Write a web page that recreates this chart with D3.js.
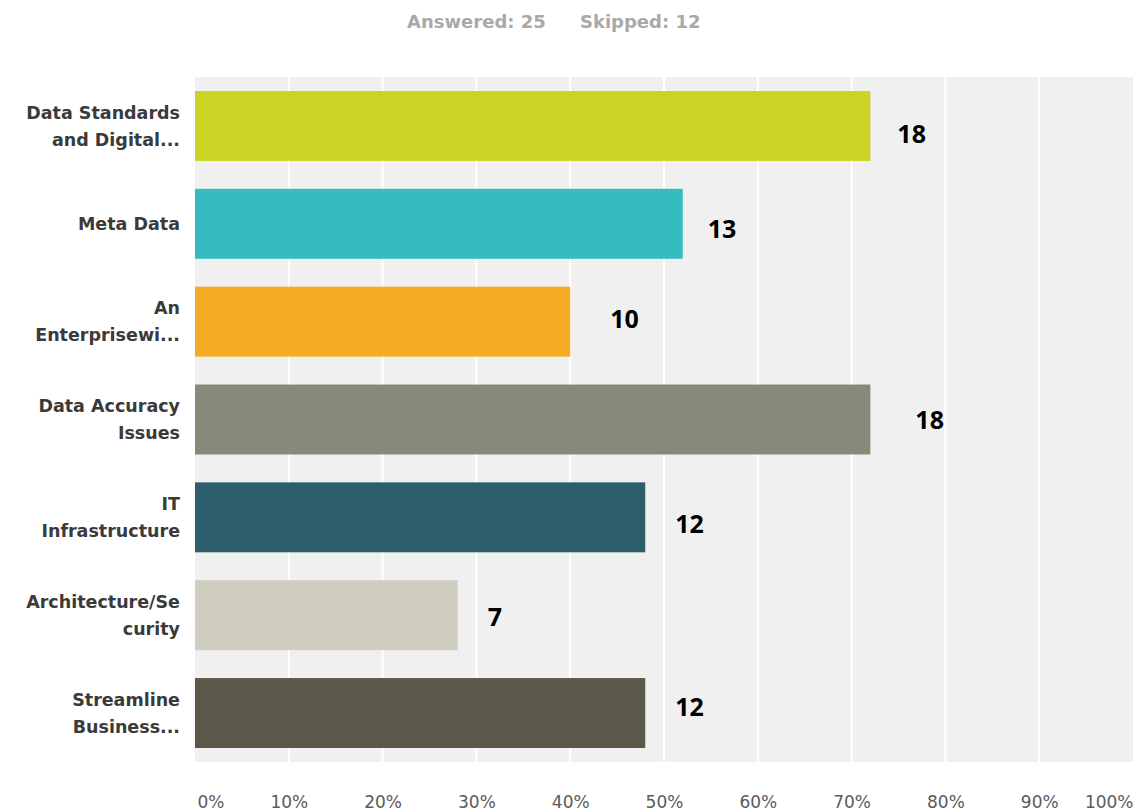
<!DOCTYPE html>
<html>
<head>
<meta charset="utf-8">
<script src="https://cdn.jsdelivr.net/npm/d3@7"></script>
<style>
  body { margin: 0; background: #fff; }
</style>
</head>
<body>
<div id="chart"></div>
<script>
//------------------------------------------------------------------------ Data
var answered = 25, skipped = 12;

var categories = [
  ["Data Standards", "and Digital..."],
  ["Meta Data"],
  ["An", "Enterprisewi..."],
  ["Data Accuracy", "Issues"],
  ["IT", "Infrastructure"],
  ["Architecture/Se", "curity"],
  ["Streamline", "Business..."]
];
var counts = [18, 13, 10, 18, 12, 7, 12];
var barColors = ["#ccd325", "#35bcc0", "#f6ac22", "#878a79", "#2d5e6c", "#cfcec0", "#5c5849"];
var tickValues = [0, 0.1, 0.2, 0.3, 0.4, 0.5, 0.6, 0.7, 0.8, 0.9, 1];

// hand placed count labels in the original (x / y nudge from bar end)
var labelNudgeX = [27, 25, 40, 45, 30, 30, 30];
var labelNudgeY = [8, 5, -3, 0, 7, 2, -6];

//------------------------------------------------------------------------ Layout
var W = 1141, H = 812;
var margin = {top: 77, right: 8, bottom: 50, left: 195},
    width = W - margin.left - margin.right,
    height = H - margin.top - margin.bottom;

var svg = d3.select("#chart").append("svg")
  .attr("width", W)
  .attr("height", H);

// title line
svg.append("text")
  .attr("x", 407).attr("y", 28)
  .attr("font-family", "DejaVu Sans")
  .attr("font-weight", "bold")
  .attr("font-size", "18px")
  .attr("fill", "#a9a9a9")
  .text("Answered: " + answered);
svg.append("text")
  .attr("x", 580).attr("y", 28)
  .attr("font-family", "DejaVu Sans")
  .attr("font-weight", "bold")
  .attr("font-size", "18px")
  .attr("fill", "#a9a9a9")
  .text("Skipped: " + skipped);

var g = svg.append("g").attr("transform", "translate(" + margin.left + "," + margin.top + ")");

var x = d3.scaleLinear().domain([0, 1]).range([0, width]);
var y = d3.scaleBand()
  .domain(d3.range(categories.length))
  .range([0, height])
  .paddingInner(0.285)
  .paddingOuter(0.143);

// background
g.append("rect")
  .attr("width", width).attr("height", height)
  .attr("fill", "#f0f0f0");

// grid lines
g.selectAll(".grid").data(tickValues.slice(1, -1)).enter().append("line")
  .attr("x1", function(d){ return x(d); })
  .attr("x2", function(d){ return x(d); })
  .attr("y1", 0).attr("y2", height)
  .attr("stroke", "#fff")
  .attr("stroke-width", 2);

// bars
g.selectAll(".bar").data(counts).enter().append("rect")
  .attr("x", 0)
  .attr("y", function(d, i){ return y(i); })
  .attr("width", function(d){ return x(d / answered); })
  .attr("height", y.bandwidth())
  .attr("fill", function(d, i){ return barColors[i]; });

// count labels
g.selectAll(".cnt").data(counts).enter().append("text")
  .attr("x", function(d, i){ return x(d / answered) + labelNudgeX[i]; })
  .attr("y", function(d, i){ return y(i) + y.bandwidth() / 2 + labelNudgeY[i]; })
  .attr("dy", "0.36em")
  .attr("font-family", "Open Sans")
  .attr("font-weight", "bold")
  .attr("font-size", "25px")
  .attr("fill", "#000")
  .text(function(d){ return d; });

// category labels
var lineH = 27;
categories.forEach(function(lines, i){
  var cy = y(i) + y.bandwidth() / 2;
  var t = g.append("text")
    .attr("text-anchor", "end")
    .attr("font-family", "DejaVu Sans")
    .attr("font-weight", "bold")
    .attr("font-size", "17.5px")
    .attr("fill", "#3a3a3a");
  lines.forEach(function(s, k){
    t.append("tspan")
      .attr("x", -15)
      .attr("y", cy + (k - (lines.length - 1) / 2) * lineH)
      .attr("dy", "0.36em")
      .text(s);
  });
});

// x axis labels
var xAxis = d3.axisBottom(x)
  .tickValues(tickValues)
  .tickFormat(d3.format(".0%"))
  .tickSize(0)
  .tickPadding(0);

var ax = g.append("g")
  .attr("transform", "translate(0," + (height + 46) + ")")
  .call(xAxis);
ax.select(".domain").remove();
ax.selectAll("text")
  .attr("font-family", "DejaVu Sans")
  .attr("font-size", "17px")
  .attr("fill", "#5a5a5a")
  .attr("dy", 0)
  .attr("text-anchor", function(d, i){ return i === 0 ? "start" : (i === tickValues.length - 1 ? "end" : "middle"); })
  .attr("dx", function(d, i){ return i === 0 ? 2 : 0; });
</script>
</body>
</html>
